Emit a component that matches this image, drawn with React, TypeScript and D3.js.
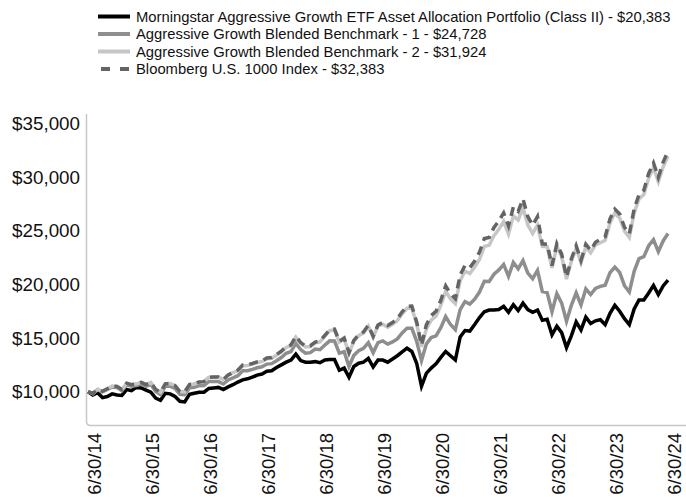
import React from "react";
import * as d3 from "d3";

const tickLabels = ["6/30/14", "6/30/15", "6/30/16", "6/30/17", "6/30/18", "6/30/19", "6/30/20", "6/30/21", "6/30/22", "6/30/23", "6/30/24"];
const yTicks = [10000, 15000, 20000, 25000, 30000, 35000];

const seriesNames = [
  "Morningstar Aggressive Growth ETF Asset Allocation Portfolio (Class II) - $20,383",
  "Aggressive Growth Blended Benchmark - 1 - $24,728",
  "Aggressive Growth Blended Benchmark - 2 - $31,924",
  "Bloomberg U.S. 1000 Index - $32,383",
];

// Monthly values, 6/30/14 .. 6/30/24
const fund = [
  10000, 9700, 9900, 9450, 9550, 9800, 9700, 9650, 10200, 10100, 10400, 10350,
  10150, 9950, 9400, 9200, 9850, 9800, 9550, 9100, 9050, 9750, 9850, 9950,
  9950, 10300, 10350, 10400, 10200, 10450, 10650, 10900, 11100, 11200, 11350, 11550,
  11650, 11900, 11950, 12250, 12500, 12750, 12950, 13500, 12900, 12750, 12750, 12800,
  12700, 12950, 13000, 13000, 12000, 12200, 11350, 12350, 12650, 12750, 13100, 12300,
  12950, 12950, 12750, 13050, 13350, 13700, 14050, 13750, 12650, 10500, 11700, 12200,
  12600, 13200, 13750, 13350, 12950, 15100, 15700, 15650, 16250, 16900, 17450, 17600,
  17600, 17650, 17950, 17400, 18100, 17550, 18250, 17650, 17400, 17600, 16650, 16750,
  15300, 16100, 15500, 14100, 15200, 16500, 15750, 16950, 16350, 16600, 16700, 16250,
  17300, 18050, 17500, 16800, 16250, 17700, 18550, 18550, 19200, 19900, 19050, 19850,
  20383,
];

const bench1 = [
  10000, 9813, 10199, 9989, 10201, 10440, 10391, 10103, 10651, 10516, 10583, 10702,
  10492, 10672, 10025, 9738, 10500, 10523, 10307, 9754, 9726, 10370, 10405, 10563,
  10566, 10949, 10952, 10944, 10718, 11095, 11285, 11491, 11944, 11960, 12083, 12233,
  12321, 12572, 12613, 12883, 13183, 13583, 13738, 14498, 13921, 13593, 13637, 13969,
  13910, 14340, 14739, 14724, 13596, 13721, 12341, 13382, 13810, 14034, 14567, 13640,
  14567, 14725, 14434, 14634, 14912, 15468, 15903, 15906, 14689, 12897, 14442, 15041,
  15203, 15957, 16992, 16255, 15775, 17642, 18388, 18168, 18616, 19283, 20284, 20274,
  20948, 21342, 21853, 20742, 22032, 21440, 22220, 21040, 20528, 21303, 19329, 19227,
  17443, 19142, 18249, 16558, 18044, 19207, 18078, 19579, 19045, 19614, 19807, 19918,
  21096, 21605, 21111, 19872, 19279, 21214, 22401, 22580, 23594, 24167, 23048, 24044,
  24728,
];

const bench2 = [
  10000, 9833, 10230, 10039, 10273, 10524, 10496, 10205, 10780, 10655, 10733, 10865,
  10652, 10857, 10209, 9937, 10736, 10771, 10571, 10004, 9986, 10669, 10727, 10912,
  10938, 11346, 11361, 11364, 11141, 11557, 11780, 11947, 12419, 12435, 12563, 12719,
  12811, 13071, 13114, 13395, 13706, 14122, 14283, 15073, 14504, 14162, 14209, 14554,
  14646, 15179, 15685, 15753, 14625, 14921, 13568, 14713, 15218, 15481, 16105, 15080,
  16141, 16288, 16002, 16279, 16625, 17264, 17770, 17793, 16339, 14187, 15821, 16665,
  17038, 18049, 19354, 18645, 18202, 20356, 21217, 21013, 21608, 22321, 23535, 23637,
  24541, 25123, 25851, 24687, 26384, 25996, 27112, 25511, 24735, 25511, 23537, 23500,
  21532, 23541, 22583, 20490, 22135, 23360, 22014, 23495, 22937, 23681, 23875, 24097,
  25743, 26628, 26183, 24961, 24371, 26646, 27959, 28361, 29901, 30867, 29551, 30950,
  31924,
];

const bloomberg = [
  10000, 9833, 10230, 10039, 10273, 10524, 10496, 10205, 10780, 10655, 10733, 10865,
  10652, 10857, 10209, 9937, 10736, 10771, 10571, 10004, 9986, 10669, 10727, 10912,
  10938, 11346, 11361, 11364, 11141, 11557, 11780, 12007, 12481, 12497, 12626, 12783,
  12875, 13137, 13180, 13462, 13775, 14193, 14355, 15149, 14577, 14233, 14280, 14627,
  14720, 15255, 15764, 15832, 14698, 14996, 13636, 14787, 15294, 15559, 16186, 15156,
  16222, 16453, 16164, 16443, 16793, 17438, 17949, 17973, 16504, 14330, 16227, 17092,
  17475, 18512, 19850, 19123, 18669, 20878, 21761, 21552, 22162, 23011, 24263, 24368,
  25300, 25900, 26650, 25450, 27200, 26800, 27950, 26300, 25500, 26300, 23775, 23737,
  21749, 23779, 22811, 20697, 22359, 23596, 22236, 23732, 23169, 23920, 24214, 24439,
  26109, 27006, 26555, 25315, 24717, 27024, 28356, 28764, 30326, 31305, 29971, 31389,
  32383,
];

const W = 686;
const H = 497;
const FONT = "'Liberation Sans', Arial, Helvetica, sans-serif";

const styles = [
  { color: "#000000", dash: null as string | null },
  { color: "#8e8e8e", dash: null as string | null },
  { color: "#c6c6c6", dash: null as string | null },
  { color: "#646464", dash: "9,6" as string | null },
];

export default function App() {
  const x = d3.scaleLinear().domain([0, 120]).range([88, 668]);
  const y = d3.scaleLinear().domain([10000, 35000]).range([391.7, 123.3]);
  const line = d3
    .line<number>()
    .x((_, i) => x(i))
    .y((d) => y(d))
    .curve(d3.curveLinear);
  const all = [fund, bench1, bench2, bloomberg];
  const fmt = (v: number) => "$" + d3.format(",")(v);
  const legendY = d3.scaleLinear().domain([0, 3]).range([16.5, 69]);

  return (
    <svg
      width={W}
      height={H}
      style={{ position: "absolute", left: 0, top: 0, display: "block", background: "#fff" }}
      fontFamily={FONT}
    >
      <rect x={0} y={0} width={W} height={H} fill="#fff" />
      {/* legend */}
      {seriesNames.map((name, k) => (
        <g key={name}>
          <line
            x1={k === 3 ? 101 : 98}
            x2={130}
            y1={legendY(k)}
            y2={legendY(k)}
            stroke={styles[k].color}
            strokeWidth={4}
            strokeDasharray={k === 3 ? "9,10" : undefined}
          />
          <text x={136} y={legendY(k)} dy="0.35em" fontSize={14.8} fill="#111">
            {name}
          </text>
        </g>
      ))}
      {/* axes frame */}
      <path
        d={`M86.5,114 V421.5 Q86.5,425.5 90.5,425.5 H${W}`}
        fill="none"
        stroke="#c8c8c8"
        strokeWidth={1.5}
      />
      {/* y labels */}
      {yTicks.map((t) => (
        <text key={t} x={80} y={y(t)} dy="0.35em" textAnchor="end" fontSize={18.8} fill="#111">
          {fmt(t)}
        </text>
      ))}
      {/* x labels */}
      {tickLabels.map((t, k) => {
        const cx = x(k * 12) + 7;
        return (
          <text
            key={t}
            transform={`translate(${cx},433) rotate(-90)`}
            dy="0.35em"
            textAnchor="end"
            fontSize={18.5}
            fill="#111"
          >
            {t}
          </text>
        );
      })}
      {/* series */}
      {all.map((s, k) => (
        <path
          key={k}
          d={line(s) || ""}
          fill="none"
          stroke={styles[k].color}
          strokeWidth={3.5}
          strokeLinejoin="miter"
          strokeDasharray={styles[k].dash || undefined}
        />
      ))}
    </svg>
  );
}
